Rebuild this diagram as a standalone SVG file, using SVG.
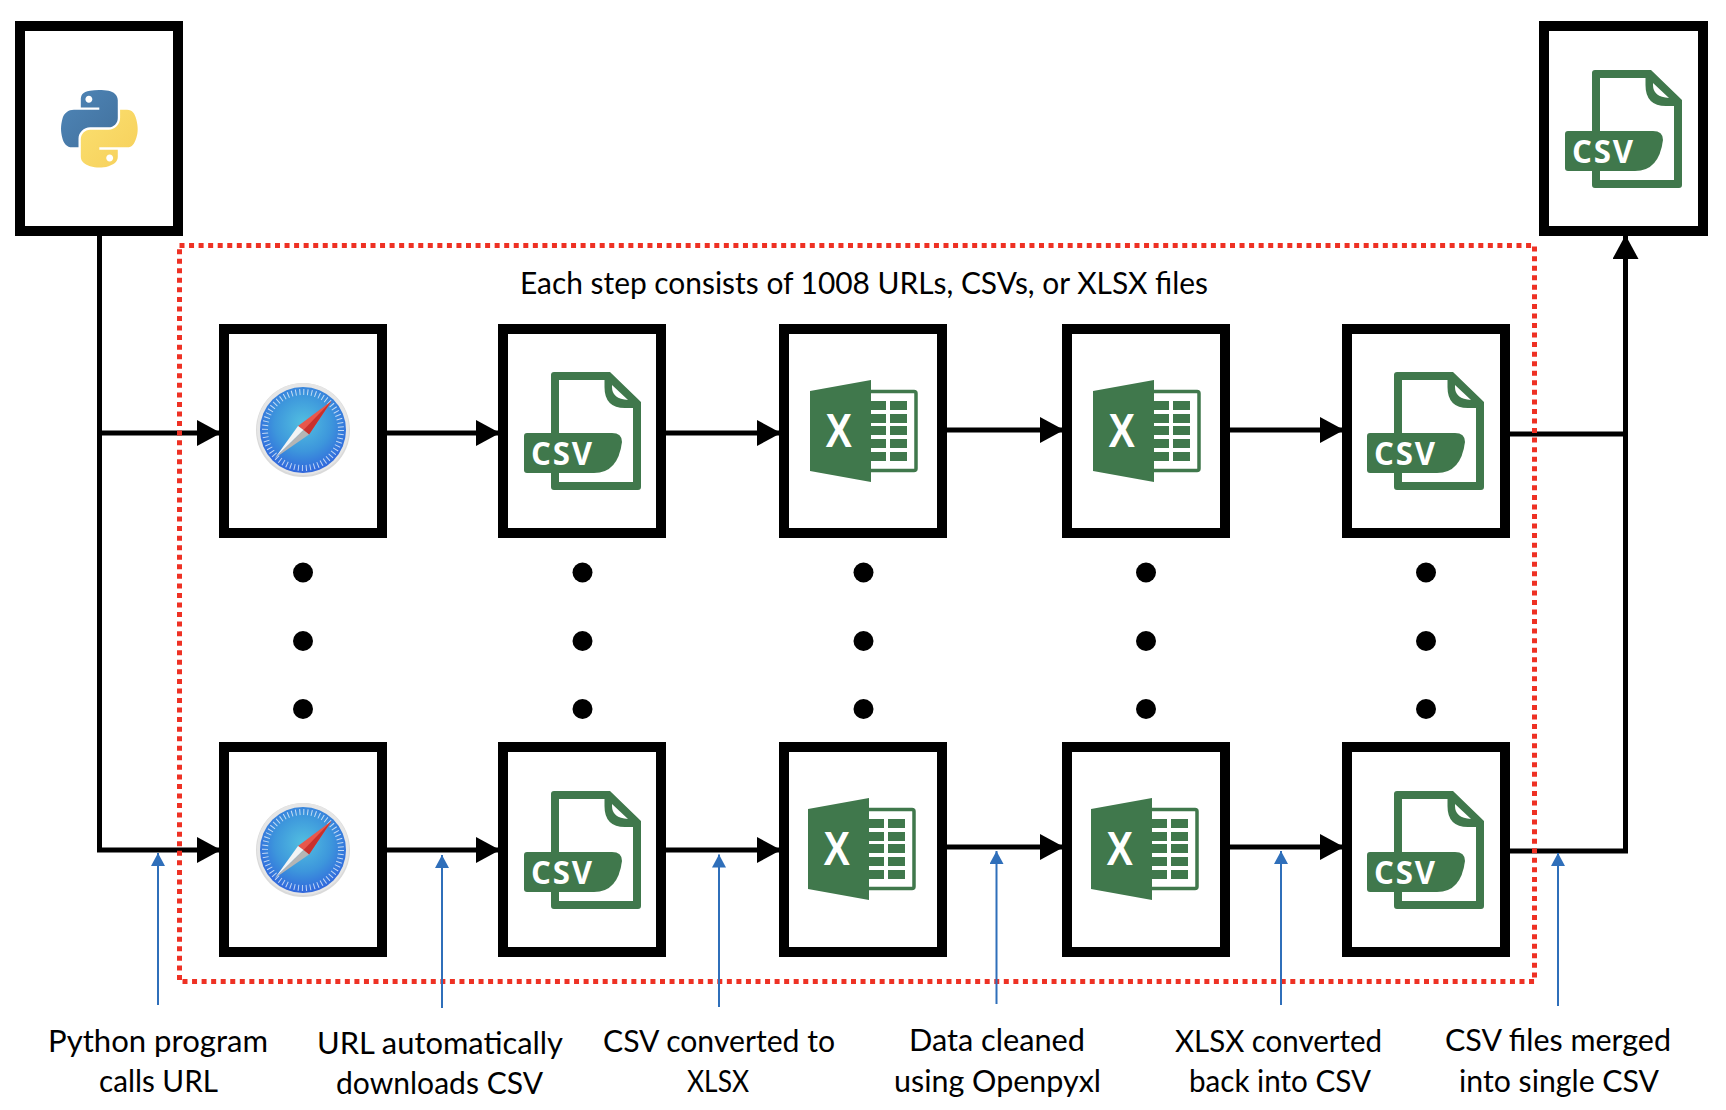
<svg xmlns="http://www.w3.org/2000/svg" width="1726" height="1110" viewBox="0 0 1726 1110">
<style>
.box{fill:#fff;stroke:#000;stroke-width:10}
.wire{fill:none;stroke:#000;stroke-width:5;stroke-linejoin:miter}
.note{fill:none;stroke:#2f6fba;stroke-width:2}
.red{fill:none;stroke:#ee3124;stroke-width:5;stroke-dasharray:5 4.55}
.dot{fill:#000}
text{font-family:Lato,"Open Sans","Liberation Sans",sans-serif;fill:#000}
.lab{font-size:30px}
.gr{fill:#40784c}
</style>
<defs>
<marker id="ah" markerUnits="userSpaceOnUse" markerWidth="26" markerHeight="28" refX="24" refY="13" orient="auto"><path d="M0 0L24 13L0 26Z" fill="#000"/></marker>
<marker id="bh" markerUnits="userSpaceOnUse" markerWidth="14" markerHeight="16" refX="13" refY="7" orient="auto"><path d="M0 0L13 7L0 14Z" fill="#2f6fba"/></marker>
<linearGradient id="pyb" x1="0" y1="0" x2="1" y2="1"><stop offset="0" stop-color="#4f86b8"/><stop offset="1" stop-color="#41709c"/></linearGradient>
<linearGradient id="pyy" x1="0" y1="0" x2="1" y2="1"><stop offset="0" stop-color="#fbe070"/><stop offset="1" stop-color="#f6cf5a"/></linearGradient>
<radialGradient id="sf" cx=".5" cy=".42" r=".6"><stop offset="0" stop-color="#52bfe0"/><stop offset=".55" stop-color="#3d96dc"/><stop offset="1" stop-color="#2f62dc"/></radialGradient>
<g id="csv">
<path class="gr" fill-rule="evenodd" d="M30 0H86L117 30V115Q117 118 114 118H30Q27 118 27 115V3Q27 0 30 0ZM35 8V110H109V36H101Q80.500 36 80.500 15V8ZM88 13V15Q88 27 104 28Z"/>
<path class="gr" d="M3 61H88Q98 61 98 70Q94 101 70 101H3Q0 101 0 98V64Q0 61 3 61Z"/>
<text x="7" y="93" font-size="33" font-weight="700" textLength="63" lengthAdjust="spacingAndGlyphs" style="fill:#fff;font-family:'Open Sans',sans-serif;letter-spacing:2px">CSV</text>
</g>
<g id="xl">
<path d="M60 11.500H104Q106 11.500 106 13.500V88.500Q106 90.500 104 90.500H60" fill="#fff" stroke="#40784c" stroke-width="3.500"/>
<path class="gr" d="M0 11L61 0V102L0 91Z"/>
<path class="gr" d="M61 21h15v9h-15zM80 21h17v9h-17zM61 34h15v9h-15zM80 34h17v9h-17zM61 46h15v9h-15zM80 46h17v9h-17zM61 59h15v9h-15zM80 59h17v9h-17zM61 72h15v9h-15zM80 72h17v9h-17z"/>
<text x="15.500" y="67" font-size="48" font-weight="700" textLength="26.500" lengthAdjust="spacingAndGlyphs" style="fill:#fff;font-family:'Liberation Sans',sans-serif">X</text>
</g>
<g id="safari">
<circle r="47" fill="#dadada"/>
<circle r="46" cy="-1" fill="#e6e6e6"/>
<circle r="43" fill="url(#sf)"/>
<circle r="38" fill="none" stroke="#fff" stroke-opacity=".7" stroke-width="6" stroke-dasharray="1 2.98"/>
<path d="M28.500 -29L-5 -4 6 4.500Z" fill="#e8574b"/>
<path d="M28.500 -29L0.500 0 6 4.500Z" fill="#c9302c"/>
<path d="M-28 28L-5 -4 0.500 0Z" fill="#f4f4f4"/>
<path d="M-28 28L6 4.500 0.500 0Z" fill="#b5b5b5"/>
</g>
</defs>
<rect width="1726" height="1110" fill="#fff"/>

<g id="start-python">
<rect class="box" x="20" y="26" width="158" height="205"/>
<g transform="translate(61 90) scale(.69)">
<path fill="url(#pyb)" d="M54.900 .01c-4.580 .02-8.950 .41-12.800 1.090C30.770 3.100 28.720 7.300 28.720 15.030v10.200h26.800v3.400H18.660c-7.790 0-14.600 4.680-16.740 13.590-2.460 10.200-2.570 16.570 0 27.230 1.900 7.930 6.460 13.590 14.250 13.590h9.200V70.800c0-8.850 7.660-16.660 16.750-16.660h26.780c7.450 0 13.400-6.140 13.400-13.630V15.030c0-7.270-6.130-12.730-13.400-13.940C65.300 .32 59.500-.01 54.900 .01zM40.400 8.230c2.770 0 5.030 2.300 5.030 5.120 0 2.810-2.260 5.090-5.030 5.090-2.780 0-5.030-2.280-5.030-5.090 0-2.820 2.250-5.120 5.030-5.120z"/>
<path fill="url(#pyy)" d="M85.640 28.660v11.900c0 9.220-7.820 16.990-16.740 16.990H42.120c-7.340 0-13.400 6.280-13.400 13.630v25.530c0 7.270 6.310 11.540 13.400 13.630 8.480 2.500 16.610 2.950 26.780 0 6.760-1.960 13.400-5.900 13.400-13.630V86.500H55.520v-3.400h40.180c7.790 0 10.690-5.430 13.400-13.590 2.800-8.400 2.680-16.470 0-27.230-1.930-7.750-5.600-13.590-13.400-13.590H85.640zM70.570 93.330c2.780 0 5.030 2.280 5.030 5.090 0 2.820-2.250 5.120-5.030 5.120-2.770 0-5.030-2.300-5.030-5.120 0-2.810 2.260-5.090 5.030-5.090z"/>
</g>
</g>
<g id="end-csv">
<rect class="box" x="1544" y="26" width="159" height="205"/>
<use href="#csv" x="1565" y="70"/>
</g>

<g id="row1-safari"><rect class="box" x="224" y="329" width="158" height="204"/><use href="#safari" x="303" y="430"/></g>
<g id="row1-csv"><rect class="box" x="503" y="329" width="158" height="204"/><use href="#csv" x="524" y="372"/></g>
<g id="row1-xlsx"><rect class="box" x="784" y="329" width="158" height="204"/><use href="#xl" x="810" y="380"/></g>
<g id="row1-xlsx-clean"><rect class="box" x="1067" y="329" width="158" height="204"/><use href="#xl" x="1093" y="380"/></g>
<g id="row1-csv-back"><rect class="box" x="1347" y="329" width="158" height="204"/><use href="#csv" x="1367" y="372"/></g>

<g id="row2-safari"><rect class="box" x="224" y="747" width="158" height="205"/><use href="#safari" x="303" y="850"/></g>
<g id="row2-csv"><rect class="box" x="503" y="747" width="158" height="205"/><use href="#csv" x="524" y="791"/></g>
<g id="row2-xlsx"><rect class="box" x="784" y="747" width="158" height="205"/><use href="#xl" x="808" y="798"/></g>
<g id="row2-xlsx-clean"><rect class="box" x="1067" y="747" width="158" height="205"/><use href="#xl" x="1091" y="798"/></g>
<g id="row2-csv-back"><rect class="box" x="1347" y="747" width="158" height="205"/><use href="#csv" x="1367" y="791"/></g>

<g id="ellipsis">
<circle class="dot" cx="303" cy="572.500" r="10"/><circle class="dot" cx="303" cy="641" r="10"/><circle class="dot" cx="303" cy="709" r="10"/>
<circle class="dot" cx="582.500" cy="572.500" r="10"/><circle class="dot" cx="582.500" cy="641" r="10"/><circle class="dot" cx="582.500" cy="709" r="10"/>
<circle class="dot" cx="863.500" cy="572.500" r="10"/><circle class="dot" cx="863.500" cy="641" r="10"/><circle class="dot" cx="863.500" cy="709" r="10"/>
<circle class="dot" cx="1146" cy="572.500" r="10"/><circle class="dot" cx="1146" cy="641" r="10"/><circle class="dot" cx="1146" cy="709" r="10"/>
<circle class="dot" cx="1426" cy="572.500" r="10"/><circle class="dot" cx="1426" cy="641" r="10"/><circle class="dot" cx="1426" cy="709" r="10"/>
</g>

<g id="connectors">
<path class="wire" d="M99.500 236V850H221" marker-end="url(#ah)"/>
<path class="wire" d="M99.500 433H221" marker-end="url(#ah)"/>
<path class="wire" d="M387 433H500" marker-end="url(#ah)"/>
<path class="wire" d="M666 433H781" marker-end="url(#ah)"/>
<path class="wire" d="M947 430H1064" marker-end="url(#ah)"/>
<path class="wire" d="M1230 430H1344" marker-end="url(#ah)"/>
<path class="wire" d="M387 850H500" marker-end="url(#ah)"/>
<path class="wire" d="M666 850H781" marker-end="url(#ah)"/>
<path class="wire" d="M947 847H1064" marker-end="url(#ah)"/>
<path class="wire" d="M1230 847H1344" marker-end="url(#ah)"/>
<path class="wire" d="M1510 434H1626"/>
<path class="wire" d="M1510 851H1628M1625.500 853.500V235" marker-end="url(#ah)"/>
<rect class="red" x="179.500" y="245.500" width="1355" height="736"/>
<path class="note" d="M158 1005V853" marker-end="url(#bh)"/>
<path class="note" d="M442 1008V855" marker-end="url(#bh)"/>
<path class="note" d="M719 1007V854.500" marker-end="url(#bh)"/>
<path class="note" d="M996.500 1004V851" marker-end="url(#bh)"/>
<path class="note" d="M1281 1005V851" marker-end="url(#bh)"/>
<path class="note" d="M1558 1006V853" marker-end="url(#bh)"/>
</g>

<g id="labels">
<text class="lab" x="520" y="294" textLength="688" lengthAdjust="spacingAndGlyphs">Each step consists of 1008 URLs, CSVs, or XLSX files</text>
<text class="lab" x="48" y="1052" textLength="220" lengthAdjust="spacingAndGlyphs">Python program</text>
<text class="lab" x="99" y="1092" textLength="119" lengthAdjust="spacingAndGlyphs">calls URL</text>
<text class="lab" x="317" y="1054" textLength="246" lengthAdjust="spacingAndGlyphs">URL automatically</text>
<text class="lab" x="336" y="1094" textLength="207" lengthAdjust="spacingAndGlyphs">downloads CSV</text>
<text class="lab" x="603" y="1052" textLength="232" lengthAdjust="spacingAndGlyphs">CSV converted to</text>
<text class="lab" x="687" y="1092" textLength="62" lengthAdjust="spacingAndGlyphs">XLSX</text>
<text class="lab" x="909" y="1051" textLength="176" lengthAdjust="spacingAndGlyphs">Data cleaned</text>
<text class="lab" x="894" y="1092" textLength="207" lengthAdjust="spacingAndGlyphs">using Openpyxl</text>
<text class="lab" x="1175" y="1052" textLength="207" lengthAdjust="spacingAndGlyphs">XLSX converted</text>
<text class="lab" x="1189" y="1092" textLength="182" lengthAdjust="spacingAndGlyphs">back into CSV</text>
<text class="lab" x="1445" y="1051" textLength="226" lengthAdjust="spacingAndGlyphs">CSV files merged</text>
<text class="lab" x="1459" y="1092" textLength="200" lengthAdjust="spacingAndGlyphs">into single CSV</text>
</g>
</svg>
